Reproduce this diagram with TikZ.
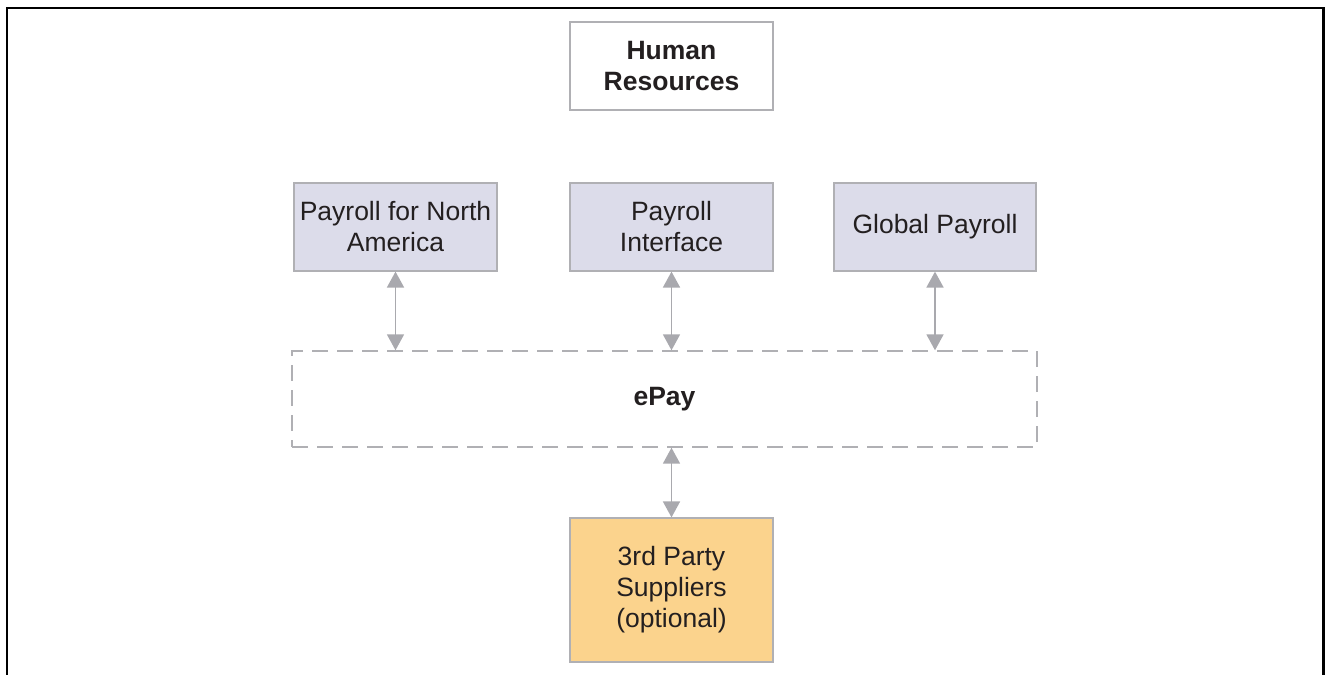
\documentclass[tikz,border=0pt]{standalone}
\usepackage{fontspec}
\setmainfont{Liberation Sans}
\usetikzlibrary{arrows.meta}
\definecolor{lav}{HTML}{DCDCEA}
\definecolor{org}{HTML}{FBD38D}
\definecolor{bord}{HTML}{B0B0B4}
\definecolor{arrg}{HTML}{A9A9AE}
\definecolor{txt}{HTML}{231F20}
\tikzset{
  box/.style={draw=bord, line width=1.2pt, rectangle, minimum width=203pt, minimum height=88pt,
    inner sep=0pt, align=center, text=txt, font=\fontsize{26.5}{31}\selectfont},
  lavbox/.style={box, fill=lav},
  dashbox/.style={draw=bord, line width=1.4pt, dash pattern=on 16pt off 9pt, rectangle,
    minimum width=745pt, minimum height=96pt, inner sep=0pt, text=txt,
    font=\fontsize{26.5}{31}\selectfont\bfseries},
  arr/.style={draw=arrg, line width=1.8pt, {Triangle[width=17pt,length=16pt]}-{Triangle[width=17pt,length=16pt]}},
  frame/.style={line width=2.6pt, draw=black}
}
\begin{document}
\begin{tikzpicture}[x=1pt,y=-1pt]
\useasboundingbox (0,0) rectangle (1326,675);
\draw[frame] (7,676) -- (7,8) -- (1323.5,8) -- (1323.5,676);
\node[box, fill=white, font=\fontsize{26.5}{31}\selectfont\bfseries] (hr) at (671.5,66) {Human\\Resources};
\node[lavbox] (pna) at (395.5,227) {Payroll for North\\America};
\node[lavbox] (pi) at (671.5,227) {Payroll\\Interface};
\node[lavbox, minimum width=202pt] (gp) at (935,227) {Global Payroll};
\node[dashbox] (epay) at (664.5,399) {ePay};
\node[box, fill=org, minimum height=144pt] (tp) at (671.5,590) {3rd Party\\Suppliers\\(optional)};
\draw[arr] (pna.south) -- (pna.south |- epay.north);
\draw[arr] (pi.south) -- (pi.south |- epay.north);
\draw[arr] (gp.south) -- (gp.south |- epay.north);
\draw[arr] (tp.north) -- (tp.north |- epay.south);
\end{tikzpicture}
\end{document}
